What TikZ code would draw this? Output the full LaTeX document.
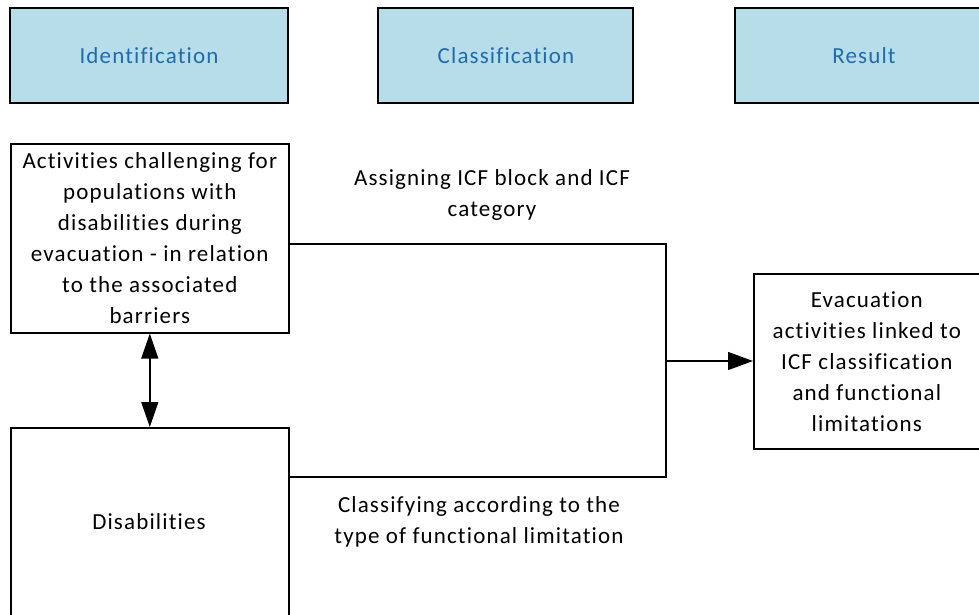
\documentclass[tikz,border=0pt]{standalone}
\usepackage{fontspec}
\setmainfont{Carlito}[LetterSpace=5,Ligatures={NoCommon,NoRare}]
\usetikzlibrary{arrows.meta}
\definecolor{hdrfill}{HTML}{B7DEE8}
\definecolor{hdrtext}{HTML}{1F6BB0}
\begin{document}
\begin{tikzpicture}[x=1pt,y=-1pt,
  box/.style={draw=black, line width=1.6pt, inner sep=0pt},
  hdr/.style={box, fill=hdrfill, text=hdrtext},
  txt/.style={font=\fontsize{23}{31}\selectfont, align=center},
  conn/.style={line width=1.4pt},
  bigtip/.style={-{Triangle[length=25pt,width=18pt]}},
  dbltip/.style={{Triangle[length=25pt,width=17pt]}-{Triangle[length=25pt,width=17pt]}}]
\useasboundingbox (0,0) rectangle (979,614);
\clip (0,0) rectangle (979,614);
% header boxes
\draw[hdr] (10,8) rectangle (288,103);
\node[txt, text=hdrtext] (idt) at (149,56) {Identification};
\draw[hdr] (378,8) rectangle (633,103);
\node[txt, text=hdrtext] (cls) at (506,56) {Classification};
\draw[hdr] (735,8) rectangle (990,103);
\node[txt, text=hdrtext] (res) at (864,56) {Result};
% main boxes
\node[box, minimum width=278pt, minimum height=189pt, anchor=north west] (act) at (10,143) {};
\node[txt] at (act.center) {Activities challenging for\\populations with\\disabilities during\\evacuation - in relation\\to the associated\\barriers};
\node[box, minimum width=278pt, minimum height=200pt, anchor=north west] (dis) at (10,427) {};
\node[txt] at (149,522) {Disabilities};
\node[box, minimum width=226pt, minimum height=175pt, anchor=north west] (evac) at (753,273) {};
\node[txt] at (evac.center) {Evacuation\\activities linked to\\ICF classification\\and functional\\limitations};
% connectors
\coordinate (j1) at (666,244);
\coordinate (j2) at (666,477);
\coordinate (jm) at (666,361);
\draw[conn] (act.east |- j1) -- (j1) -- (j2) -- (dis.east |- j2);
\draw[conn, bigtip] (jm) -- (evac.west |- jm);
\draw[conn, dbltip] (act.south) -- (dis.north);
% labels
\node[txt] (l1) at (492,195) {Assigning ICF block and ICF\\category};
\node[txt] (l2) at (479,522) {Classifying according to the\\type of functional limitation};
\end{tikzpicture}
\end{document}
